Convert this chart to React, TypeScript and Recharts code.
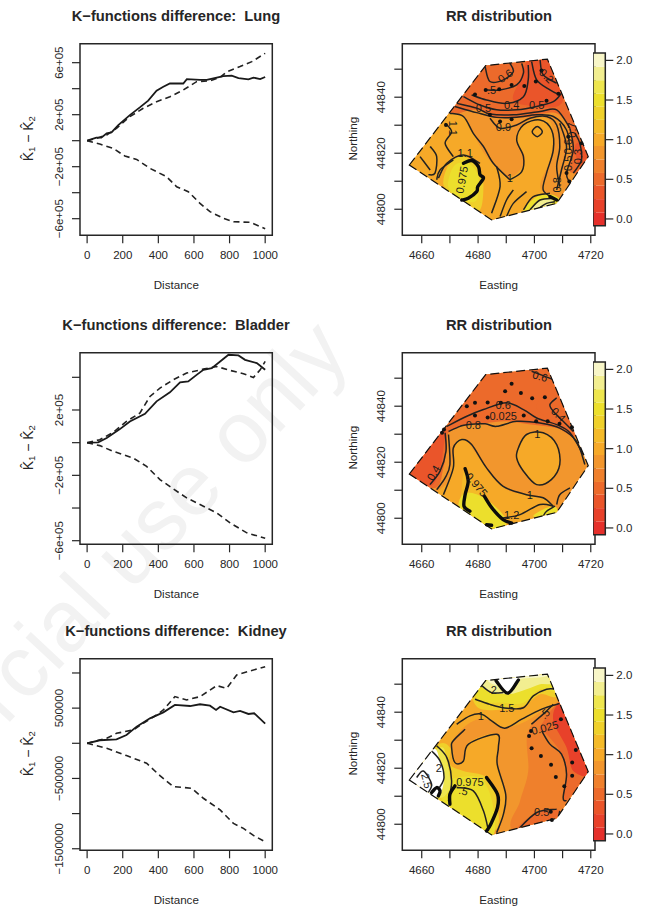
import React from "react";
import {
  LineChart,
  Line,
  ScatterChart,
  Scatter,
  XAxis,
  YAxis,
  ReferenceArea,
} from "recharts";

const FONT = '"Liberation Sans", Arial, sans-serif';
const INK = "#262626";

// K-function curves: [distance, value in units of 1e5]
const lungObserved = [[0,0],[52,.23],[80,.23],[110,.56],[137,.64],[175,1.2],[240,1.97],[296,2.56],[343,3.08],[390,3.85],[428,4.15],[465,4.4],[540,4.4],[560,4.74],[634,4.67],[672,4.67],[728,4.85],[765,4.97],[812,5],[850,4.82],[906,4.72],[934,4.85],[972,4.74],[1000,4.9]];
const lungUpper = [[0,0],[52,.18],[110,.44],[165,.95],[240,1.85],[315,2.49],[390,3],[465,3.38],[540,3.9],[615,4.54],[690,4.6],[747,4.87],[784,5.3],[859,5.7],[925,6.08],[1000,6.72]];
const lungLower = [[0,0],[71,-.26],[146,-.59],[212,-1.18],[278,-1.44],[353,-2.13],[446,-2.77],[503,-3.54],[568,-3.92],[634,-4.82],[690,-5.46],[765,-5.97],[822,-6.23],[916,-6.28],[1000,-6.77]];

const bladderObserved = [[0,0],[62,.02],[110,.29],[184,.83],[240,1.3],[325,1.77],[390,2.53],[465,3.08],[522,3.69],[568,3.75],[615,4.15],[653,4.46],[700,4.56],[747,4.97],[794,5.38],[850,5.34],[887,5.07],[953,4.87],[1000,4.46]];
const bladderUpper = [[0,0],[71,.18],[146,.63],[221,1.3],[296,1.81],[353,2.83],[409,3.34],[484,3.85],[559,4.26],[653,4.5],[728,4.66],[803,4.42],[878,4.22],[934,3.99],[972,4.46],[1000,4.97]];
const bladderLower = [[0,0],[71,-.18],[146,-.53],[259,-.94],[334,-1.45],[409,-2.26],[484,-2.83],[559,-3.38],[653,-3.89],[728,-4.3],[803,-4.91],[897,-5.52],[1000,-5.85]];

const kidneyObserved = [[0,0],[71,.43],[165,.57],[221,1.18],[278,2.37],[353,3.55],[428,4.4],[493,5.45],[578,5.3],[634,5.55],[690,5.35],[724,4.74],[747,5.2],[822,4.4],[859,4.6],[906,4.17],[938,4.27],[1000,2.8]];
const kidneyUpper = [[0,0],[110,.71],[165,1.42],[259,1.9],[315,2.84],[390,4.03],[428,4.74],[493,6.64],[559,6.16],[634,6.64],[728,8.2],[784,7.82],[840,9.72],[916,10.3],[1000,10.9]];
const kidneyLower = [[0,0],[110,-.71],[221,-1.75],[334,-2.84],[409,-4.6],[484,-6.16],[587,-6.4],[653,-7.82],[747,-9.48],[822,-11.4],[878,-12.1],[934,-13.1],[1000,-14]];

const distanceTicks = [0, 200, 400, 600, 800, 1000];
const lungTicks = [-6e5, -4e5, -2e5, 0, 2e5, 4e5, 6e5];
const lungTickLabels: Record<number, string> = { [-6e5]: "−6e+05", [-2e5]: "−2e+05", [2e5]: "2e+05", [6e5]: "6e+05" };
const bladderTicks = [-6e5, -4e5, -2e5, 0, 2e5, 4e5];
const bladderTickLabels: Record<number, string> = { [-6e5]: "−6e+05", [-2e5]: "−2e+05", [2e5]: "2e+05" };
const kidneyTicks = [-15e5, -1e6, -5e5, 0, 5e5, 1e6];
const kidneyTickLabels: Record<number, string> = { [-15e5]: "−1500000", [-5e5]: "−500000", [5e5]: "500000" };

// Map values: [easting - 4600, northing - 44800]
const EAST0 = 4600;
const NORTH0 = 44800;
const eastTicks = [4660, 4670, 4680, 4690, 4700, 4710, 4720];
const eastLabels = [4660, 4680, 4700, 4720];
const northTicks = [44800, 44810, 44820, 44830, 44840, 44850];
const northLabels = [44800, 44820, 44840];
const hull = [[55.6,15.8],[82.7,51.3],[104.6,53.6],[119.1,18.8],[107.9,2.1],[84.8,-3.8]];

// colour key
const keyTicks = [0, 0.5, 1, 1.5, 2];
const keyEdges = [-0.085,0.08,0.25,0.42,0.58,0.75,0.92,1.08,1.25,1.42,1.58,1.75,1.92,2.093];
const keyColors = ["#E5302B","#E8412A","#EA552A","#EC6A2B","#EF802C","#F2962D","#F6A928","#F4BA28","#EFD02A","#ECDF2C","#EEE64E","#F2EE90","#F8F6C8"];

type Region = { level: number; pts: number[][] };
type MapLabel = { x: number; y: number; text: string; rot?: number };

const lungBase = 0.85;
const lungRegions: Region[] = [
  { level: 0.5, pts: [[66.5,33.1],[78.3,35.5],[86.6,32.8],[97.2,32.8],[106.7,34.5],[111.4,30.7],[113.2,23.6],[112.6,15.2],[113.8,12.9],[123.2,12.9],[125.6,39],[113.8,56.9],[78.3,56.9],[66.5,46.2]] },
  { level: 0.35, pts: [[92.5,39],[99.6,36.7],[107.9,36.7],[110.2,40.2],[106.7,47.4],[104.3,54.5],[98.4,54.5],[94.9,46.2]] },
  { level: 0.35, pts: [[116.7,23.6],[120.9,18.8],[116.1,15.8],[114.4,22.4]] },
  { level: 1, pts: [[54.7,15.8],[66.5,31.9],[71.2,34.3],[75.4,32.5],[78.9,25.9],[83,18.8],[90.1,11.7],[94.9,14],[96.6,18.8],[93.7,24.8],[97.2,31.3],[104.3,32.5],[106.7,27.1],[105.5,17.6],[102,8.1],[106.7,3.3],[109,-2.6],[84.8,-7.4],[54.7,12.9]] },
  { level: 1.3, pts: [[67.7,10.5],[70,16.4],[74.8,18.8],[80.7,14],[81.9,8.1],[80.7,-0.2],[76,1],[68.9,6.9]] },
  { level: 1.5, pts: [[69.5,10.5],[71.8,15.8],[76.5,16.4],[80.1,11.7],[79.5,3.3],[74.8,3.3],[70,6.9]] },
  { level: 1.5, pts: [[96.1,-0.8],[100.8,4.5],[106.7,5.1],[109,2.1],[102,-2.6]] },
  { level: 1.8, pts: [[99,-0.2],[102.6,3.3],[106.7,3.3],[103.7,-0.2]] },
];
const lungLines = [
  [[74.8,40.2],[80.7,37.2],[86.6,35.5],[93.7,35.5],[100.8,36.7],[106.7,38.4],[109.6,41.4]],
  [[72.4,37.8],[79.5,36.1],[84.2,34],[92.5,33.7],[102,34.9],[107.9,35.5],[112.6,28.9]],
  [[71.8,36.7],[79.5,34.5],[86.6,32.8],[93.7,32.8],[100.8,33.7],[106.7,33.1],[111.4,28.3],[112.6,21.2]],
  [[70,34.3],[74.8,33.1],[78.3,27.1],[81.9,22.4],[85.4,16.4],[91.3,10.5]],
  [[84.2,32.5],[87.8,28.9],[93.7,30.1],[98.4,32.5],[104.3,33.1],[107.9,30.1],[109,22.4],[107.9,15.2],[109,8.1]],
  [[91.3,10.5],[95.5,13.4],[96.1,18.8],[93.7,24.8],[96.1,30.1],[102,31.9],[106.1,28.3],[106.7,21.2],[104.3,12.9],[103.1,6.9],[106.7,3.9]],
  [[82.5,50.9],[84.2,45.6],[89,46.2],[92.5,49.1],[91.3,52.1]],
  [[82.5,42.6],[87.8,42.6],[93.7,44.4],[96.1,48.6],[95.5,52.1]],
  [[77.7,40.8],[83,39],[90.1,37.8],[96.1,40.2],[97.8,46.2],[97.8,51.5]],
  [[99,52.7],[100.8,46.2],[105.5,42.6],[109,40.8]],
  [[102,53.3],[103.1,48],[107.9,45]],
  [[112.6,28.9],[113.8,21.2],[111.4,12.9],[112.6,9.3]],
  [[114.4,27.1],[116.1,23.6],[116.7,17.6],[113.8,12.9]],
  [[109,30.7],[111.4,22.4],[109.6,14],[107.9,6.9]],
  [[68.3,30.7],[70.6,27.7],[68.3,23.6],[71.2,18.8]],
  [[63,22.4],[65.3,18.8],[64.7,12.9],[62.4,12.3]],
  [[59.4,18.8],[63,14]],
  [[71.2,17.6],[66.5,14],[65.3,10.5]],
  [[65.9,11.1],[68.9,16.4],[74.8,19.4],[80.7,16.4]],
  [[86.6,15.2],[87.8,8.1],[84.8,-1.4]],
  [[92.5,6.9],[90.1,3.3],[87.8,-2.6]],
  [[97.2,6.3],[92.5,2.1],[90.1,-2.6]],
  [[96.1,-0.2],[99.6,4.5],[105.5,5.7]],
  [[98.4,-0.2],[102,3.3],[106.7,3.9]],
  [[100.8,-0.2],[104.3,2.1],[107.3,2.7]],
];
const lungRings = [[[102.8,27.7],[101,29.5],[99.2,27.7],[101,25.9]]];
const lungThick = [
  [[74.8,16.4],[77.7,17.4],[80.1,15.2],[80.7,12.3],[81.9,11.1],[79.9,8.1],[79.5,6.3],[76.5,3.9],[74.2,3.3]],
  [[105.5,4.5],[107.9,3.3]],
];
const lungDots = [[82.7,42.6],[87.5,42.8],[91.9,44.4],[96.4,44],[100.5,45.6],[102.5,49.5],[78.9,41],[84.2,33.7],[87.8,31.3],[91.9,32.1],[104.3,38.7],[108.5,41.2],[112,25.9],[111.4,12.9],[112.4,9.9],[116.7,23.6],[68.6,30.1]];
const lungLabels: MapLabel[] = [
  { x: 89.6, y: 47.6, text: "0.6", rot: -35 },
  { x: 104.3, y: 47.6, text: "0.2", rot: 45 },
  { x: 84.8, y: 42.6, text: ".5" },
  { x: 91.9, y: 37.2, text: "0.4" },
  { x: 81.9, y: 36, text: "0.5" },
  { x: 100.8, y: 37.2, text: "0.5" },
  { x: 89, y: 29.3, text: "0.9" },
  { x: 91.3, y: 11, text: "1" },
  { x: 74.2, y: 10.5, text: "0.975", rot: -80 },
  { x: 71.2, y: 28.9, text: "1.1", rot: 90 },
  { x: 75.4, y: 20, text: "1.1" },
  { x: 107.9, y: 8.7, text: "0.8", rot: -90 },
  { x: 113.2, y: 28.3, text: "0.7", rot: -90 },
  { x: 115.6, y: 18.8, text: "0.3", rot: -90 },
  { x: 111.8, y: 22.4, text: "0.6", rot: -90 },
  { x: 112, y: 16.4, text: "0.5", rot: -90 },
];

const bladderBase = 0.85;
const bladderRegions: Region[] = [
  { level: 0.55, pts: [[53.5,16.2],[64.7,10.8],[67.7,18],[68.9,25.1],[69.5,30.5],[76,33.4],[83,34],[90.1,34.6],[99.6,33.4],[107.9,32.2],[113.8,29.3],[124.4,27.5],[120.9,57.2],[81.9,57.2],[66.5,39.4]] },
  { level: 0.4, pts: [[53.5,16.2],[62.9,11.4],[66.5,18],[67.7,25.1],[68.3,31.7],[64.1,29.9]] },
  { level: 0.45, pts: [[100.8,39.4],[106.7,34.6],[112.6,32.2],[109.6,43],[103.7,44.1]] },
  { level: 1, pts: [[72.4,27.5],[75.4,28.1],[79.5,22.7],[85.4,14.4],[91.3,9.6],[98.4,8.4],[106.7,4.9],[109,-2.3],[84.8,-7],[66.5,7.3],[69.5,13.2],[71.2,21.5]] },
  { level: 1, pts: [[94.3,25.1],[97.2,29.9],[103.1,30.5],[107.9,26.3],[109,19.2],[106,13.8],[100.8,12],[96.1,16.8],[93.7,21.5]] },
  { level: 1.2, pts: [[75.4,18],[77.7,13.2],[82.5,7.3],[90.1,-1.1],[84.2,-4.6],[74.8,3.7],[74.2,10.8]] },
  { level: 1.5, pts: [[75.4,9],[83,6.7],[90.1,-1.1],[84.2,-5.8],[73.6,2.5]] },
  { level: 1.5, pts: [[99.6,0.7],[104.3,3.7],[107.9,3.7],[106.7,0.7]] },
];
const bladderLines = [
  [[68.3,30.5],[68.6,23.9],[66.5,16.8],[62.9,12]],
  [[69.5,29.9],[70,19.2],[68.3,14.4],[65.3,10.2]],
  [[69.5,31],[73.6,32.8],[76,33.4],[82.5,33.7],[86.6,32.8],[93.7,34.6],[102,34],[109,32.2],[114.9,27.5],[117.9,19.2]],
  [[68.9,32.8],[76,36.4],[81.9,38.8],[90.1,41.2],[96.1,38.8],[100.8,35.8],[107.9,33.4],[112.6,30.5],[117.4,22.7]],
  [[67.7,8.4],[71.2,18],[71.2,25.1],[74.2,28.1],[77.7,26.3],[83,18],[88.9,11.4],[97.2,8.4],[103.1,7.3],[106.7,4.3]],
  [[107.9,43],[105.5,40.6],[106.7,38.2],[110.2,34.6],[113.8,31]],
  [[88.9,0.1],[94.9,1.3],[102,4.9],[106.7,4.3]],
  [[107.9,4.9],[109,8.4],[112.6,10.8]],
  [[107.3,4.3],[104.3,2.5],[103.1,0.7]],
  [[99,52.5],[106.7,49.5]],
];
const bladderRings = [[[94.3,25.1],[97.2,29.9],[103.1,30.5],[107.9,26.3],[109,19.2],[106,13.8],[100.8,12],[96.1,16.8],[93.7,21.5]]];
const bladderThick = [
  [[75.4,17.7],[76.5,13.2],[75.4,8.4],[75,4.3],[77.1,2.5]],
  [[82.2,7.9],[84.9,3.7],[88.9,-0.5],[91.9,-1.7]],
  [[83,-2.3],[84.8,-2.5]],
];
const bladderDots = [[91.9,48],[89.6,45.3],[95.2,44.7],[99.2,42.8],[103.7,43.2],[78.9,41.2],[83.4,41.3],[88.1,41.2],[76,40],[78.9,36.7],[83.4,36],[96.2,36.7],[100.6,34.6],[104.7,34.6],[108.9,33.7],[113.3,32.5],[67.9,31.7],[67.2,30.5]];
const bladderLabels: MapLabel[] = [
  { x: 102, y: 50.7, text: "0.6", rot: 15 },
  { x: 88.9, y: 40.6, text: "0.6" },
  { x: 88.9, y: 36.4, text: "0.025" },
  { x: 78.3, y: 33.2, text: "0.8" },
  { x: 108.5, y: 37, text: "0.4", rot: 45 },
  { x: 64.1, y: 16.2, text: "0.4", rot: -60 },
  { x: 79.5, y: 12, text: "0.975", rot: 50 },
  { x: 101, y: 29.9, text: "1" },
  { x: 98.4, y: 8.2, text: "1" },
  { x: 91.9, y: 1.1, text: "1.2" },
];

const kidneyBase = 1;
const kidneyRegions: Region[] = [
  { level: 0.85, pts: [[70.6,28.6],[72.4,22],[75.4,23.8],[76.6,29.2],[86.6,32.1],[86.8,22.6],[89.8,10.7],[89,2.4],[86.6,-4.8],[113.8,-7.1],[125.6,15.5],[112.6,42.8],[106.7,42.8],[97.2,36.9],[89,34.5],[83,37.5],[78.3,36.9],[74.2,33.9]] },
  { level: 0.7, pts: [[92.5,-2.4],[94.9,8.3],[97.8,19],[97.8,33.3],[106.7,41.7],[113.8,44],[125.6,15.5],[113.8,-7.1]] },
  { level: 0.45, pts: [[102,34.5],[109,44],[113.8,44],[124.4,19],[113.8,10.7],[110.2,8.3],[111.4,19],[109,26.2],[104.3,32.1]] },
  { level: 0.2, pts: [[106.7,36.9],[108.5,42.8],[113.8,40.5],[119.7,19],[113.8,19],[111.4,27.4]] },
  { level: 0.45, pts: [[93.7,-2.4],[102,4.8],[109,4.8],[109,-1.2]] },
  { level: 1.3, pts: [[78.9,42.8],[89,41],[96.1,42.2],[102,46.4],[109,46.4],[112.6,63],[78.3,60.7]] },
  { level: 1.5, pts: [[79.5,45.2],[89,43.4],[96.1,43.4],[102,48.2],[109,48.2],[112.6,63],[78.3,60.7]] },
  { level: 1.85, pts: [[81.9,48.8],[90.1,46.4],[97.2,48.2],[102,50],[109,51.2],[112.6,63],[80,60]] },
  { level: 2, pts: [[83,51.8],[90.1,49.4],[94.9,51.8],[105.5,53.6],[105.5,63],[83,63]] },
  { level: 9, pts: [[86,52.1],[90.5,46.8],[94.9,53],[90.1,54.7]] },
  { level: 1.3, pts: [[65.3,28],[70,27.4],[70,21.4],[74.8,19],[83,16.7],[86.6,8.3],[85.4,-2.4],[66.5,3.6],[55.9,15.5]] },
  { level: 1.5, pts: [[68.3,14.3],[73,16.7],[81.3,16.1],[85.4,6],[84.2,-4.8],[68.3,6]] },
  { level: 1.7, pts: [[66.5,27.4],[68.9,22.6],[70,13],[65.3,9.5],[56.5,17.9]] },
  { level: 9, pts: [[53.5,16.1],[63.5,26.8],[66.5,22.6],[67.9,16.7],[66.5,10.7],[63,10.1]] },
];
const kidneyLines = [
  [[81.4,49.4],[84.8,47],[89,47]],
  [[78.9,44.6],[84.2,42.8],[90.4,41.4],[96.1,41.6],[99.6,45.8],[104.3,48.2],[107.9,48.2]],
  [[72.4,35.7],[77.1,38.7],[81.3,39.3],[84.8,36.9],[89.5,34.3],[95.5,37.5],[102.6,41.1],[109,43.1]],
  [[75.4,33.9],[71.2,29.8],[70.6,27.4],[71.8,22],[74.8,22.6],[76.6,28.6],[86.6,32.1],[87.2,27.4],[86.8,21.4],[89.8,10.7],[89,3.6],[86.6,-3]],
  [[102.6,33.3],[105.5,28.6],[109.6,25],[111.4,17.9],[110.2,9.5],[111.4,8.3]],
  [[98.9,35.7],[103.1,39.3],[106.7,42.8]],
  [[93.7,-2.4],[100.8,4.2],[107.9,5.4]],
  [[109,4.8],[108.5,2.4]],
  [[65.3,28],[68.9,23.8],[70.6,15.5],[69.5,8.3]],
  [[63.5,26.2],[66.5,22.6],[67.9,16.7],[66.3,13.1]],
  [[58.2,16.7],[60.6,19],[63.5,14.3],[62.3,11.3]],
  [[72.4,13.1],[78.3,11.9],[81.9,4.8],[83.7,-2.4]],
];
const kidneyRings: number[][][] = [];
const kidneyThick = [
  [[71.8,13.7],[70,10.7],[70,7.1]],
  [[83,16.7],[86.9,10.7],[86.9,6],[84.5,0],[83,-2.4]],
  [[63.5,11.3],[65.3,13.1],[66.5,11.9],[65.9,10.1]],
  [[86.4,51.2],[90.5,46.8],[94.3,51.5]],
];
const kidneyDots = [[109.4,37.5],[98.8,33.3],[98.1,31.5],[99,27.1],[102.3,24.4],[105.9,21.2],[107.6,16.9],[110.6,13.6],[113.4,17.3],[113.4,22],[114.7,26.5],[105.8,4.5],[106.2,1.5]];
const kidneyLabels: MapLabel[] = [
  { x: 85.6, y: 47.8, text: "2" },
  { x: 90.2, y: 41.4, text: "1.5" },
  { x: 81, y: 38.7, text: "1" },
  { x: 103.7, y: 39.5, text: ".5", rot: -45 },
  { x: 103.7, y: 34.5, text: "0.025", rot: -15 },
  { x: 66.1, y: 20, text: "2" },
  { x: 61.8, y: 15.5, text: "2.5", rot: 75 },
  { x: 77.1, y: 15.1, text: "0.975" },
  { x: 74.8, y: 11.9, text: ".5", rot: 15 },
  { x: 102.6, y: 4.2, text: "0.5" },
];

const toPoints = (a: number[][]) => a.map(([e, n]) => ({ x: e + EAST0, y: n + NORTH0 }));
const toCurve = (a: number[][], unit: number) => a.map(([d, v]) => ({ d, v: v * unit }));

function levelColor(level: number) {
  if (level > 2.093) return "#ffffff";
  const i = keyEdges.findIndex((e, k) => level >= e && level < keyEdges[k + 1]);
  return keyColors[Math.max(i, 0)];
}

// Catmull-Rom through the pixel points the Scatter hands over
function smoothPath(p: { x: number; y: number }[], closed: boolean) {
  const n = p.length;
  if (n < 2) return "";
  const at = (i: number) => (closed ? p[(i + n) % n] : p[Math.min(Math.max(i, 0), n - 1)]);
  let d = `M${p[0].x},${p[0].y}`;
  const last = closed ? n : n - 1;
  for (let i = 0; i < last; i++) {
    const p0 = at(i - 1), p1 = at(i), p2 = at(i + 1), p3 = at(i + 2);
    const c1x = p1.x + (p2.x - p0.x) / 6, c1y = p1.y + (p2.y - p0.y) / 6;
    const c2x = p2.x - (p3.x - p1.x) / 6, c2y = p2.y - (p3.y - p1.y) / 6;
    d += `C${c1x},${c1y} ${c2x},${c2y} ${p2.x},${p2.y}`;
  }
  return closed ? d + "Z" : d;
}

const straightPath = (p: { x: number; y: number }[]) => `M${p.map((q) => `${q.x},${q.y}`).join("L")}Z`;

const NoMark = () => null;
const SigDot = (p: any) => <circle cx={p.cx} cy={p.cy} r={2} fill="#111" />;
const ContourLabel = (p: any) => (
  <text
    x={p.cx}
    y={p.cy}
    dy={4}
    textAnchor="middle"
    fontSize={11}
    fontFamily={FONT}
    fill="#1c1c1c"
    transform={p.payload.rot ? `rotate(${p.payload.rot} ${p.cx} ${p.cy})` : undefined}
  >
    {p.payload.text}
  </text>
);

function XTitle(text: string, x: number, y: number) {
  return (
    <text x={x} y={y} textAnchor="middle" fontSize={11.6} fontWeight={500} fontFamily={FONT} fill={INK}>
      {text}
    </text>
  );
}

const titleStyle = { position: "absolute", textAlign: "center", whiteSpace: "pre", font: `bold 14.7px ${FONT}`, color: INK } as const;

function KPanel({ left, top, boxTop, title, observed, upper, lower, domain, ticks, tickLabels }: any) {
  const labelTick = (p: any) => (
    <text
      x={p.x - 7}
      y={p.y}
      textAnchor="middle"
      fontSize={11.5}
      fontFamily={FONT}
      fill={INK}
      transform={`rotate(-90 ${p.x - 7} ${p.y})`}
    >
      {tickLabels[p.payload.value] ?? ""}
    </text>
  );
  const marginTop = boxTop - top;
  return (
    <div style={{ position: "absolute", left, top, width: 320, height: 300 }}>
      <div style={{ ...titleStyle, top: boxTop - top - 36, width: 352 }}>{title}</div>
      <LineChart width={320} height={300} margin={{ top: marginTop, left: 20, right: 47.7, bottom: 300 - marginTop - 191.6 - 60 }}>
        <XAxis
          type="number"
          dataKey="d"
          domain={[-40, 1040]}
          ticks={distanceTicks}
          interval={0}
          allowDataOverflow
          height={60}
          axisLine={false}
          tickSize={8}
          tickMargin={8}
          tick={{ fontSize: 11.5, fontFamily: FONT, fill: INK }}
          tickLine={{ stroke: INK, strokeWidth: 1.2 }}
          label={(p: any) => XTitle("Distance", p.viewBox.x + 96.3, p.viewBox.y + 54)}
        />
        <YAxis
          type="number"
          domain={domain}
          ticks={ticks}
          interval={0}
          allowDataOverflow
          width={60}
          axisLine={false}
          tickSize={8}
          tick={labelTick}
          tickLine={{ stroke: INK, strokeWidth: 1.2 }}
          label={() => {
            const cx = 33;
            const cy = marginTop + 95;
            return (
              <text x={cx} y={cy} transform={`rotate(-90 ${cx} ${cy})`} textAnchor="middle" fontSize={14} fontFamily={FONT} fill={INK}>
                K̂<tspan dy={2.5} fontSize={9.5}>1</tspan>
                <tspan dy={-2.5}> − K̂</tspan>
                <tspan dy={2.5} fontSize={9.5}>2</tspan>
              </text>
            );
          }}
        />
        <ReferenceArea x1={-40} x2={1040} y1={domain[0]} y2={domain[1]} fill="none" stroke={INK} strokeWidth={1.5} />
        <Line data={upper} dataKey="v" stroke="#222" strokeWidth={1.6} strokeDasharray="6 4" dot={false} isAnimationActive={false} />
        <Line data={lower} dataKey="v" stroke="#222" strokeWidth={1.6} strokeDasharray="6 4" dot={false} isAnimationActive={false} />
        <Line data={observed} dataKey="v" stroke="#1a1a1a" strokeWidth={1.8} dot={false} isAnimationActive={false} />
      </LineChart>
    </div>
  );
}

function MapPanel({ id, top, boxTop, base, regions, lines, rings, thick, dots, labels }: any) {
  const marginTop = boxTop - top;
  const clip = `url(#${id})`;
  const hullPts = toPoints(hull);
  const eastDomain = [4653.1, 4721.5];
  const northDomain = [44790.7, 44859.1];
  return (
    <div style={{ position: "absolute", left: 340, top, width: 306, height: 300 }}>
      <div style={{ ...titleStyle, top: boxTop - top - 36, width: 318 }}>RR distribution</div>
      <ScatterChart width={306} height={300} margin={{ top: marginTop, left: 12.3, right: 51, bottom: 300 - marginTop - 191.6 - 60 }}>
        <XAxis
          type="number"
          dataKey="x"
          domain={eastDomain}
          ticks={eastTicks}
          interval={0}
          allowDataOverflow
          height={60}
          axisLine={false}
          tickSize={8}
          tickMargin={8}
          tickFormatter={(v: number) => (eastLabels.includes(v) ? String(v) : "")}
          tick={{ fontSize: 11.5, fontFamily: FONT, fill: INK }}
          tickLine={{ stroke: INK, strokeWidth: 1.2 }}
          label={(p: any) => XTitle("Easting", p.viewBox.x + 96.3, p.viewBox.y + 54)}
        />
        <YAxis
          type="number"
          dataKey="y"
          domain={northDomain}
          ticks={northTicks}
          interval={0}
          allowDataOverflow
          width={50}
          axisLine={false}
          tickSize={8}
          tick={(p: any) => (
            <text x={p.x - 7} y={p.y} textAnchor="middle" fontSize={11.5} fontFamily={FONT} fill={INK} transform={`rotate(-90 ${p.x - 7} ${p.y})`}>
              {northLabels.includes(p.payload.value) ? p.payload.value : ""}
            </text>
          )}
          tickLine={{ stroke: INK, strokeWidth: 1.2 }}
          label={() => {
            const cx = 17;
            const cy = marginTop + 95;
            return (
              <text x={cx} y={cy} transform={`rotate(-90 ${cx} ${cy})`} textAnchor="middle" fontSize={11.6} fontWeight={500} fontFamily={FONT} fill={INK}>
                Northing
              </text>
            );
          }}
        />
        <ReferenceArea x1={eastDomain[0]} x2={eastDomain[1]} y1={northDomain[0]} y2={northDomain[1]} fill="none" stroke={INK} strokeWidth={1.5} />
        <Scatter
          data={hullPts}
          shape={NoMark}
          isAnimationActive={false}
          line={(p: any) => (
            <g>
              <clipPath id={id}>
                <path d={straightPath(p.points)} />
              </clipPath>
              <path d={straightPath(p.points)} fill={levelColor(base)} />
            </g>
          )}
        />
        {regions.map((r: Region, i: number) => (
          <Scatter
            key={`r${i}`}
            data={toPoints(r.pts)}
            shape={NoMark}
            isAnimationActive={false}
            line={(p: any) => <path clipPath={clip} d={smoothPath(p.points, true)} fill={levelColor(r.level)} stroke="none" />}
          />
        ))}
        {lines.map((l: number[][], i: number) => (
          <Scatter
            key={`l${i}`}
            data={toPoints(l)}
            shape={NoMark}
            isAnimationActive={false}
            line={(p: any) => <path clipPath={clip} d={smoothPath(p.points, false)} fill="none" stroke="#222" strokeWidth={1.5} />}
          />
        ))}
        {rings.map((l: number[][], i: number) => (
          <Scatter
            key={`c${i}`}
            data={toPoints(l)}
            shape={NoMark}
            isAnimationActive={false}
            line={(p: any) => <path d={smoothPath(p.points, true)} fill="none" stroke="#222" strokeWidth={1.5} />}
          />
        ))}
        <Scatter
          data={hullPts}
          shape={NoMark}
          isAnimationActive={false}
          line={(p: any) => <path d={straightPath(p.points)} fill="none" stroke="#111" strokeWidth={1.2} strokeDasharray="9 4" />}
        />
        {thick.map((l: number[][], i: number) => (
          <Scatter
            key={`t${i}`}
            data={toPoints(l)}
            shape={NoMark}
            isAnimationActive={false}
            line={(p: any) => <path d={smoothPath(p.points, false)} fill="none" stroke="#0c0c0c" strokeWidth={3.4} strokeLinecap="round" />}
          />
        ))}
        <Scatter data={toPoints(dots)} shape={SigDot} isAnimationActive={false} />
        <Scatter data={labels.map((l: MapLabel) => ({ ...l, x: l.x + EAST0, y: l.y + NORTH0 }))} shape={ContourLabel} isAnimationActive={false} />
      </ScatterChart>
      <div style={{ position: "absolute", left: 252.7, top: marginTop + 9.6 - 5, width: 54 }}>
        <ScatterChart width={54} height={182.7} margin={{ top: 5, left: 0, right: 0, bottom: 5 }}>
          <XAxis type="number" dataKey="x" domain={[0, 1]} allowDataOverflow hide />
          <YAxis
            type="number"
            dataKey="y"
            orientation="right"
            domain={[-0.085, 2.093]}
            ticks={keyTicks}
            interval={0}
            allowDataOverflow
            width={41.7}
            axisLine={false}
            tickSize={8}
            tickMargin={3}
            tickFormatter={(v: number) => v.toFixed(1)}
            tick={{ fontSize: 11.5, fontFamily: FONT, fill: INK }}
            tickLine={{ stroke: INK, strokeWidth: 1.2 }}
          />
          {keyColors.map((c, i) => (
            <ReferenceArea key={c} x1={0} x2={1} y1={keyEdges[i]} y2={keyEdges[i + 1]} fill={c} fillOpacity={1} stroke="none" />
          ))}
          <ReferenceArea x1={0} x2={1} y1={-0.085} y2={2.093} fill="none" stroke={INK} strokeWidth={1.5} />
        </ScatterChart>
      </div>
    </div>
  );
}

export default function App() {
  return (
    <div style={{ position: "absolute", left: 0, top: 0, width: 646, height: 909, background: "#fff", overflow: "hidden" }}>
      <svg width={646} height={909} style={{ position: "absolute", left: 0, top: 0 }}>
        <text x={352} y={355} textAnchor="end" fontSize={87} fontFamily={FONT} fill="#f2f2f2" transform="rotate(-47 352 355)">
          Non-commercial use only
        </text>
      </svg>

      <KPanel
        left={0} top={0} boxTop={43.7}
        title="K−functions difference:  Lung"
        observed={toCurve(lungObserved, 1e5)} upper={toCurve(lungUpper, 1e5)} lower={toCurve(lungLower, 1e5)}
        domain={[-727700, 746000]} ticks={lungTicks} tickLabels={lungTickLabels}
      />
      <MapPanel id="clipLung" top={0} boxTop={43.7} base={lungBase} regions={lungRegions} lines={lungLines} rings={lungRings} thick={lungThick} dots={lungDots} labels={lungLabels} />

      <KPanel
        left={0} top={310} boxTop={352.7}
        title="K−functions difference:  Bladder"
        observed={toCurve(bladderObserved, 1e5)} upper={toCurve(bladderUpper, 1e5)} lower={toCurve(bladderLower, 1e5)}
        domain={[-622000, 550600]} ticks={bladderTicks} tickLabels={bladderTickLabels}
      />
      <MapPanel id="clipBladder" top={310} boxTop={352.7} base={bladderBase} regions={bladderRegions} lines={bladderLines} rings={bladderRings} thick={bladderThick} dots={bladderDots} labels={bladderLabels} />

      <KPanel
        left={0} top={615} boxTop={658.7}
        title="K−functions difference:  Kidney"
        observed={toCurve(kidneyObserved, 1e5)} upper={toCurve(kidneyUpper, 1e5)} lower={toCurve(kidneyLower, 1e5)}
        domain={[-1522000, 1203000]} ticks={kidneyTicks} tickLabels={kidneyTickLabels}
      />
      <MapPanel id="clipKidney" top={615} boxTop={658.7} base={kidneyBase} regions={kidneyRegions} lines={kidneyLines} rings={kidneyRings} thick={kidneyThick} dots={kidneyDots} labels={kidneyLabels} />
    </div>
  );
}
